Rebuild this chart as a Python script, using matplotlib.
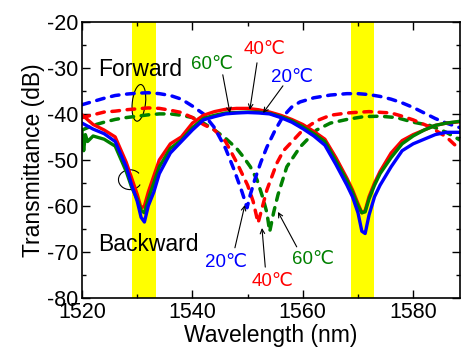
import matplotlib
matplotlib.use("Agg")
import matplotlib.pyplot as plt
from matplotlib.patches import Ellipse, Arc
from matplotlib.ticker import MultipleLocator

plt.rcParams['font.family'] = ['Liberation Sans', 'DejaVu Sans']
plt.rcParams['axes.unicode_minus'] = False

# backward (solid) spectra
wl_back = [1520, 1522, 1524, 1526, 1528, 1529, 1530, 1530.7, 1531.3, 1532, 1533, 1534,
           1536, 1538, 1540, 1542, 1544, 1546, 1548, 1550, 1552, 1554, 1556, 1558, 1560,
           1562, 1564, 1566, 1568, 1569, 1570, 1570.7, 1571.3, 1572, 1573, 1574, 1576,
           1578, 1580, 1582, 1584, 1586, 1588.5]
back_20 = [-42, -43.3, -44.3, -46, -51.5, -55.5, -59, -62.5, -63.5, -60, -57, -53,
           -48.5, -46, -43.5, -41.3, -40.6, -40, -39.8, -39.7, -39.8, -40, -40.8, -41.8, -43.2,
           -44.8, -46.8, -51, -55.5, -58, -61.5, -65.5, -66, -62, -58, -55.5, -51.5,
           -48, -46.5, -45.5, -44.5, -44, -44]
back_40 = [-40.2, -42.3, -43.5, -45, -50.5, -54, -57.5, -60.5, -60, -57, -53.5, -50,
           -46.5, -45, -42, -40.3, -39.5, -39, -38.8, -38.8, -39.1, -39.6, -40.3, -41.2, -42.3,
           -43.8, -45.5, -49.5, -54, -56.5, -59.5, -61.5, -61, -58, -55, -52.5, -48.5,
           -45.8, -44.5, -43.5, -42.5, -42, -41.7]
wl_back_60 = [1520, 1520.3, 1520.6, 1521, 1522, 1524, 1526, 1528, 1529, 1530, 1530.7, 1531.3,
              1532, 1533, 1534, 1536, 1538, 1540, 1542, 1544, 1546, 1548, 1550, 1552, 1554,
              1556, 1558, 1560, 1562, 1564, 1566, 1568, 1569, 1570, 1570.7, 1571.3, 1572,
              1573, 1574, 1576, 1578, 1580, 1582, 1584, 1586, 1588.5]
back_60 = [-44, -48, -44.5, -46, -44.8, -45.5, -47, -52.5, -56, -58.5, -61, -61.5,
           -58.5, -55, -51.5, -47.5, -45.7, -43, -41, -40.3, -39.8, -39.7, -39.6, -39.6, -39.9,
           -40.6, -41.5, -42.8, -44.3, -46, -50.2, -54.5, -57, -60, -61.5, -61.3, -58.5,
           -55.5, -53, -49.5, -46.5, -44.8, -43.5, -42.5, -42, -41.6]

# forward (dashed) spectra
wl_fwd_20 = [1520, 1522, 1524, 1526, 1528, 1530, 1532, 1534, 1536, 1538, 1540, 1542, 1544,
             1546, 1547.5, 1549, 1549.9, 1550.5, 1551.3, 1552.4, 1553.5, 1555, 1556.4, 1558,
             1559.5, 1562, 1565, 1568, 1570, 1572, 1574, 1576, 1578, 1580, 1582, 1584, 1586,
             1588.5]
fwd_20 = [-38, -37.3, -36.6, -36, -35.7, -35.5, -35.4, -35.6, -36, -36.8, -38.3, -40, -43,
          -47.5, -52, -57, -60.4, -57.5, -54.3, -50.5, -47.2, -43.5, -40.6, -38.5,
          -37.4, -36.5, -35.9, -35.6, -35.6, -35.8, -36.2, -36.8, -37.6, -38.6, -39.8, -41, -42,
          -43]
wl_fwd_40 = [1520, 1522, 1524, 1526, 1528, 1530, 1532, 1534, 1536, 1538, 1540, 1542, 1544,
             1546, 1548, 1550, 1551, 1551.9, 1552.5, 1553.5, 1555.3, 1556.5, 1558.3, 1560,
             1562.5, 1565, 1568, 1572, 1576, 1578, 1580, 1583, 1586, 1588.5]
fwd_40 = [-40.8, -40.2, -39.6, -39.4, -39.1, -38.9, -38.7, -38.8, -39.2, -39.7, -40.8, -42.3, -43.5,
          -46, -50.5, -55.5, -59, -63.7, -61, -56.5, -50.7, -48, -45.7, -43.5,
          -41.5, -40.3, -39.8, -39.5, -39.8, -40.5, -41.3, -42.8, -45, -47.8]
wl_fwd_60 = [1520, 1522, 1524, 1526, 1528, 1530, 1532, 1534, 1536, 1538, 1540, 1542, 1544,
             1546, 1548, 1549.2, 1550.5, 1551.7, 1552.7, 1553.5, 1554, 1554.7, 1555.5, 1557.1,
             1559.5, 1562.5, 1565, 1568, 1571, 1574, 1577, 1580, 1583, 1586, 1588.5]
fwd_60 = [-43.5, -42.5, -41.8, -41.2, -40.8, -40.5, -40.2, -40, -40, -40.3, -40.8, -42, -43.5,
          -45.3, -47.5, -49.3, -51.5, -54.3, -58, -61.5, -65.6, -61.5, -57.6, -51.5,
          -47.2, -43.5, -42, -41.2, -40.6, -40.5, -40.8, -41.8, -42.5, -44, -45.7]

bands = [(1529.1, 1533.4), (1568.7, 1572.9)]

c20, c40, c60 = '#0000ff', '#ff0000', '#008000'

fig = plt.figure(figsize=(4.61, 3.53), dpi=100)
ax = fig.add_axes([0.178, 0.156, 0.82, 0.782])

for lo, hi in bands:
    ax.axvspan(lo, hi, color='#ffff00', lw=0, zorder=0)

dash = (2.2, 2.2)
for wl, tr, c in [(wl_fwd_60, fwd_60, c60), (wl_fwd_40, fwd_40, c40), (wl_fwd_20, fwd_20, c20)]:
    ax.plot(wl, tr, color=c, lw=2.5, dashes=dash, dash_capstyle='round')
ax.plot(wl_back, back_40, color=c40, lw=2.4)
ax.plot(wl_back_60, back_60, color=c60, lw=2.4)
ax.plot(wl_back, back_20, color=c20, lw=2.4)

ax.set_xlim(1520, 1588.5)
ax.set_ylim(-80, -20)
ax.xaxis.set_major_locator(MultipleLocator(20))
ax.xaxis.set_minor_locator(MultipleLocator(10))
ax.yaxis.set_major_locator(MultipleLocator(10))
ax.yaxis.set_minor_locator(MultipleLocator(5))
ax.tick_params(which='both', direction='in', top=True, right=True, labelsize=15.5, width=1)
ax.tick_params(which='major', length=6, pad=3)
ax.tick_params(which='minor', length=3)
for s in ax.spines.values():
    s.set_linewidth(1.2)
ax.set_xlabel('Wavelength (nm)', fontsize=16.5, labelpad=1)
ax.set_ylabel('Transmittance (dB)', fontsize=16.5, labelpad=1)

# labels and markers
ax.text(1530.5, -30.4, 'Forward', fontsize=16.5, ha='center', va='center')
ax.text(1532.0, -68.3, 'Backward', fontsize=16.5, ha='center', va='center')
ax.add_patch(Ellipse((1530.3, -37.6), 2.4, 8.0, angle=-5, fill=False, lw=0.8, color='k'))
ax.add_patch(Arc((1528.7, -54.3), 4.2, 4.3, theta1=40, theta2=330, lw=0.8, color='k'))

temp_labels = ['60℃', '40℃', '20℃', '20℃', '40℃', '60℃']
temp_colors = [c60, c40, c20, c20, c40, c60]
label_pos = [(1543.6, -29.3), (1553.1, -26.1), (1558.0, -32.0),
             (1546.1, -72.4), (1554.6, -76.5), (1561.9, -71.7)]
arrow_from = [(1545.5, -31.5), (1551.7, -28.9), (1556.4, -33.9),
              (1547.7, -69.1), (1553.2, -73.3), (1558.9, -68.9)]
arrow_to = [(1546.8, -39.8), (1550.4, -39.1), (1552.8, -39.8),
            (1549.5, -59.8), (1552.6, -64.8), (1555.5, -61.3)]

for t, c, p, a, b in zip(temp_labels, temp_colors, label_pos, arrow_from, arrow_to):
    ax.text(p[0], p[1], t, color=c, fontsize=13.5, ha='center', va='center')
    ax.annotate('', xy=b, xytext=a,
                arrowprops=dict(arrowstyle='->', lw=0.8, color='k', mutation_scale=8,
                                shrinkA=0, shrinkB=0))

fig.savefig('out.png', dpi=100)
